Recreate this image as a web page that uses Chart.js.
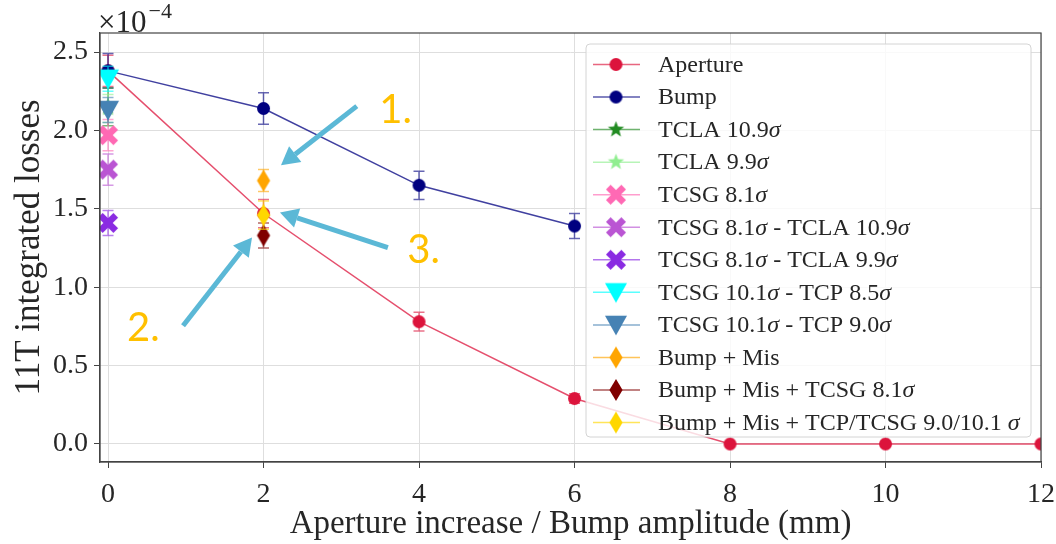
<!DOCTYPE html>
<html>
<head>
<meta charset="utf-8">
<script src="https://cdn.jsdelivr.net/npm/chart.js@4.4.1/dist/chart.umd.min.js"></script>
<style>
  html, body { margin: 0; padding: 0; background: #fff; }
  #wrap { width: 1056px; height: 544px; }
</style>
</head>
<body>
<div id="wrap"><canvas id="lossChart" width="1056" height="544"></canvas></div>
<script>
// integrated losses, in units of 1e-4
const gapValues = [0, 2, 4, 6, 8, 10, 12];
const apertureLoss = [2.38, 1.47, 0.78, 0.29, 0.0, 0.0, 0.0];
const apertureErr = [0.10, 0.09, 0.06, 0.03, 0, 0, 0];

const bumpValues = [0, 2, 4, 6];
const bumpLoss = [2.38, 2.14, 1.65, 1.39];
const bumpErr = [0.11, 0.10, 0.09, 0.08];

// collimator settings at nominal orbit (x = 0)
const settingNames = ['TCLA 10.9σ', 'TCLA 9.9σ', 'TCSG 8.1σ', 'TCSG 8.1σ - TCLA 10.9σ',
  'TCSG 8.1σ - TCLA 9.9σ', 'TCSG 10.1σ - TCP 8.5σ', 'TCSG 10.1σ - TCP 9.0σ'];
const settingLoss = [2.15, 2.14, 1.97, 1.75, 1.41, 2.33, 2.13];
const settingErr = [0.12, 0.09, 0.10, 0.10, 0.08, 0.08, 0.08];

// misaligned cases, 2 mm bump
const misNames = ['Bump + Mis', 'Bump + Mis + TCSG 8.1σ', 'Bump + Mis + TCP/TCSG 9.0/10.1 σ'];
const misBump = 2;
const misLoss = [1.68, 1.33, 1.46];
const misErr = [0.07, 0.08, 0.09];

const xTicks = [0, 2, 4, 6, 8, 10, 12];
const xTickLabels = ['0', '2', '4', '6', '8', '10', '12'];
const yTicks = [0, 0.5, 1.0, 1.5, 2.0, 2.5];
const yTickLabels = ['0.0', '0.5', '1.0', '1.5', '2.0', '2.5'];

const SERIF = '"Liberation Serif", "DejaVu Serif", serif';
const INK = '#262626';

function marker(shape, color, size) {
  const c = document.createElement('canvas');
  c.width = c.height = size + 2;
  const g = c.getContext('2d');
  const m = (size + 2) / 2, r = size / 2;
  g.fillStyle = color;
  g.beginPath();
  if (shape === 'circle') {
    g.arc(m, m, r, 0, Math.PI * 2);
  } else if (shape === 'star') {
    for (let i = 0; i < 10; i++) {
      const a = -Math.PI / 2 + i * Math.PI / 5;
      const rr = i % 2 ? r * 0.42 : r;
      g.lineTo(m + rr * Math.cos(a), m + rr * Math.sin(a));
    }
  } else if (shape === 'tri') {
    g.moveTo(m - r, m - r * 0.85);
    g.lineTo(m + r, m - r * 0.85);
    g.lineTo(m, m + r * 0.95);
  } else if (shape === 'x') {
    const L = r * 1.09, t = r * 0.33;
    const pts = [[-t, -L], [t, -L], [t, -t], [L, -t], [L, t], [t, t], [t, L], [-t, L], [-t, t], [-L, t], [-L, -t], [-t, -t]];
    const cs = Math.SQRT1_2;
    pts.forEach(([px, py]) => g.lineTo(m + (px - py) * cs, m + (px + py) * cs));
  } else if (shape === 'thin') {
    g.moveTo(m, m - r);
    g.lineTo(m + r * 0.6, m);
    g.lineTo(m, m + r);
    g.lineTo(m - r * 0.6, m);
  }
  g.closePath();
  g.fill();
  return c;
}

function rgba(hex, a) {
  const n = parseInt(hex.slice(1), 16);
  return `rgba(${n >> 16},${(n >> 8) & 255},${n & 255},${a})`;
}

function series(label, xs, ys, errs, color, shape, size, line) {
  return {
    label,
    data: xs.map((x, i) => ({ x, y: ys[i] })),
    errors: errs,
    color,
    icon: marker(shape, color, size),
    pointStyle: marker(shape, color, size),
    pointRadius: size / 2,
    showLine: !!line,
    borderColor: rgba(color, 0.75),
    backgroundColor: color,
    borderWidth: 1.5,
    clip: 0
  };
}

const settingColors = ['#228B22', '#90EE90', '#FF69B4', '#BA55D3', '#8A2BE2', '#00FFFF', '#4682B4'];
const settingShapes = ['star', 'star', 'x', 'x', 'x', 'tri', 'tri'];
const misColors = ['#FFA500', '#800000', '#FFD700'];

const datasets = [
  series('Aperture', gapValues, apertureLoss, apertureErr, '#DC143C', 'circle', 13, true),
  series('Bump', bumpValues, bumpLoss, bumpErr, '#000080', 'circle', 13, true)
];
settingNames.forEach((name, i) => {
  const size = settingShapes[i] === 'tri' ? 22 : settingShapes[i] === 'x' ? 20 : 17;
  datasets.push(series(name, [0], [settingLoss[i]], [settingErr[i]], settingColors[i], settingShapes[i], size, false));
});
misNames.forEach((name, i) => {
  datasets.push(series(name, [misBump], [misLoss[i]], [misErr[i]], misColors[i], 'thin', 22, false));
});
// later series sit on top
datasets.forEach((d, i) => { d.order = datasets.length - i; });

const errorBars = {
  id: 'errorBars',
  beforeDatasetDraw(chart, args) {
    const ds = chart.data.datasets[args.index];
    if (!ds.errors) return;
    const { ctx, chartArea: a, scales: { x, y } } = chart;
    ctx.save();
    ctx.beginPath();
    ctx.rect(a.left, a.top, a.width, a.height);
    ctx.clip();
    ctx.strokeStyle = rgba(ds.color, 0.6);
    ctx.lineWidth = 1.5;
    ds.data.forEach((p, i) => {
      const e = ds.errors[i];
      if (!e) return;
      const px = x.getPixelForValue(p.x);
      const top = y.getPixelForValue(p.y + e), bot = y.getPixelForValue(p.y - e);
      ctx.beginPath();
      ctx.moveTo(px, top); ctx.lineTo(px, bot);
      ctx.moveTo(px - 5.5, top); ctx.lineTo(px + 5.5, top);
      ctx.moveTo(px - 5.5, bot); ctx.lineTo(px + 5.5, bot);
      ctx.stroke();
    });
    ctx.restore();
  }
};

function drawLabel(ctx, text, x, y, size) {
  const parts = text.split('σ');
  parts.forEach((p, i) => {
    ctx.font = `${size}px ${SERIF}`;
    ctx.fillText(p, x, y);
    x += ctx.measureText(p).width;
    if (i < parts.length - 1) {
      ctx.font = `italic ${size}px ${SERIF}`;
      ctx.fillText('σ', x, y);
      x += ctx.measureText('σ').width;
    }
  });
}

const frameAndLegend = {
  id: 'frameAndLegend',
  afterDraw(chart) {
    const { ctx, chartArea: a } = chart;
    ctx.save();
    // axes frame
    ctx.strokeStyle = '#444';
    ctx.lineWidth = 1.2;
    ctx.strokeRect(a.left, a.top, a.width, a.height);

    // exponent label
    ctx.fillStyle = INK;
    ctx.textBaseline = 'alphabetic';
    ctx.font = `31px ${SERIF}`;
    ctx.fillText('×10', a.left - 2, a.top - 1);
    const w = ctx.measureText('×10').width;
    ctx.font = `22px ${SERIF}`;
    ctx.fillText('−4', a.left + w, a.top - 15);

    // legend
    const bx = a.right - 455, by = a.top + 11, bw = 445, bh = 393;
    ctx.beginPath();
    ctx.roundRect(bx, by, bw, bh, 4);
    ctx.fillStyle = 'rgba(255,255,255,0.8)';
    ctx.fill();
    ctx.strokeStyle = '#d4d4d4';
    ctx.lineWidth = 1;
    ctx.stroke();
    ctx.textBaseline = 'middle';
    chart.data.datasets.forEach((ds, i) => {
      const cy = by + 20.5 + i * 32.55;
      ctx.strokeStyle = rgba(ds.color, 0.65);
      ctx.lineWidth = 1.5;
      ctx.beginPath();
      ctx.moveTo(bx + 7, cy); ctx.lineTo(bx + 54, cy);
      ctx.stroke();
      ctx.drawImage(ds.icon, bx + 30 - ds.icon.width / 2, cy - ds.icon.height / 2);
      ctx.fillStyle = INK;
      drawLabel(ctx, ds.label, bx + 72, cy + 1, 24);
    });

    // callouts
    const { x, y } = chart.scales;
    const notes = chart.options.plugins.frameAndLegend.notes;
    notes.forEach(n => {
      const tx = x.getPixelForValue(n.from[0]), ty = y.getPixelForValue(n.from[1]);
      const hx = x.getPixelForValue(n.to[0]), hy = y.getPixelForValue(n.to[1]);
      const ang = Math.atan2(hy - ty, hx - tx);
      const headLen = 18, headW = 10;
      const bxp = hx - headLen * Math.cos(ang), byp = hy - headLen * Math.sin(ang);
      ctx.strokeStyle = '#5BB8D6';
      ctx.fillStyle = '#5BB8D6';
      ctx.lineWidth = 5;
      ctx.beginPath();
      ctx.moveTo(tx, ty); ctx.lineTo(bxp, byp);
      ctx.stroke();
      ctx.beginPath();
      ctx.moveTo(hx, hy);
      ctx.lineTo(bxp + headW * Math.sin(ang), byp - headW * Math.cos(ang));
      ctx.lineTo(bxp - headW * Math.sin(ang), byp + headW * Math.cos(ang));
      ctx.closePath();
      ctx.fill();

      ctx.fillStyle = '#FFC000';
      ctx.font = '40px Lato, "Open Sans", sans-serif';
      ctx.textBaseline = 'alphabetic';
      ctx.fillText(n.text, x.getPixelForValue(n.at[0]), y.getPixelForValue(n.at[1]));
    });
    ctx.restore();
  }
};

new Chart(document.getElementById('lossChart'), {
  type: 'scatter',
  data: { datasets },
  options: {
    responsive: false,
    animation: false,
    devicePixelRatio: 1,
    events: [],
    layout: { padding: { top: 33, right: 15, left: 0, bottom: 0 } },
    scales: {
      x: {
        type: 'linear',
        min: -0.103,
        max: 12,
        afterBuildTicks: s => { s.ticks = xTicks.map(v => ({ value: v })); },
        afterFit: s => { s.height = 82; s.paddingLeft = 0; s.paddingRight = 0; },
        grid: { color: '#dedede', lineWidth: 1, tickLength: 6, tickColor: '#444' },
        border: { color: '#444', width: 1.2 },
        ticks: {
          font: { family: SERIF, size: 28 }, color: INK, padding: 10, maxRotation: 0,
          callback: (v, i) => xTickLabels[i]
        },
        title: {
          display: true, text: 'Aperture increase / Bump amplitude (mm)',
          font: { family: SERIF, size: 33 }, color: INK, padding: { top: 0, bottom: 0 }
        }
      },
      y: {
        type: 'linear',
        min: -0.115,
        max: 2.6215,
        afterBuildTicks: s => { s.ticks = yTicks.map(v => ({ value: v })); },
        afterFit: s => { s.width = 100; },
        grid: { color: '#dedede', lineWidth: 1, tickLength: 6, tickColor: '#444' },
        border: { color: '#444', width: 1.2 },
        ticks: {
          font: { family: SERIF, size: 28 }, color: INK, padding: 6,
          callback: (v, i) => yTickLabels[i]
        },
        title: {
          display: true, text: '11T integrated losses',
          font: { family: SERIF, size: 35 }, color: INK, padding: { top: 9, bottom: 0 }
        }
      }
    },
    plugins: {
      legend: { display: false },
      tooltip: { enabled: false },
      frameAndLegend: {
        notes: [
          { text: '1.', from: [3.20, 2.155], to: [2.225, 1.778], at: [3.49, 2.05] },
          { text: '2.', from: [0.965, 0.754], to: [1.852, 1.317], at: [0.245, 0.66] },
          { text: '3.', from: [3.60, 1.253], to: [2.212, 1.477], at: [3.85, 1.157] }
        ]
      }
    }
  },
  plugins: [errorBars, frameAndLegend]
});
</script>
</body>
</html>
